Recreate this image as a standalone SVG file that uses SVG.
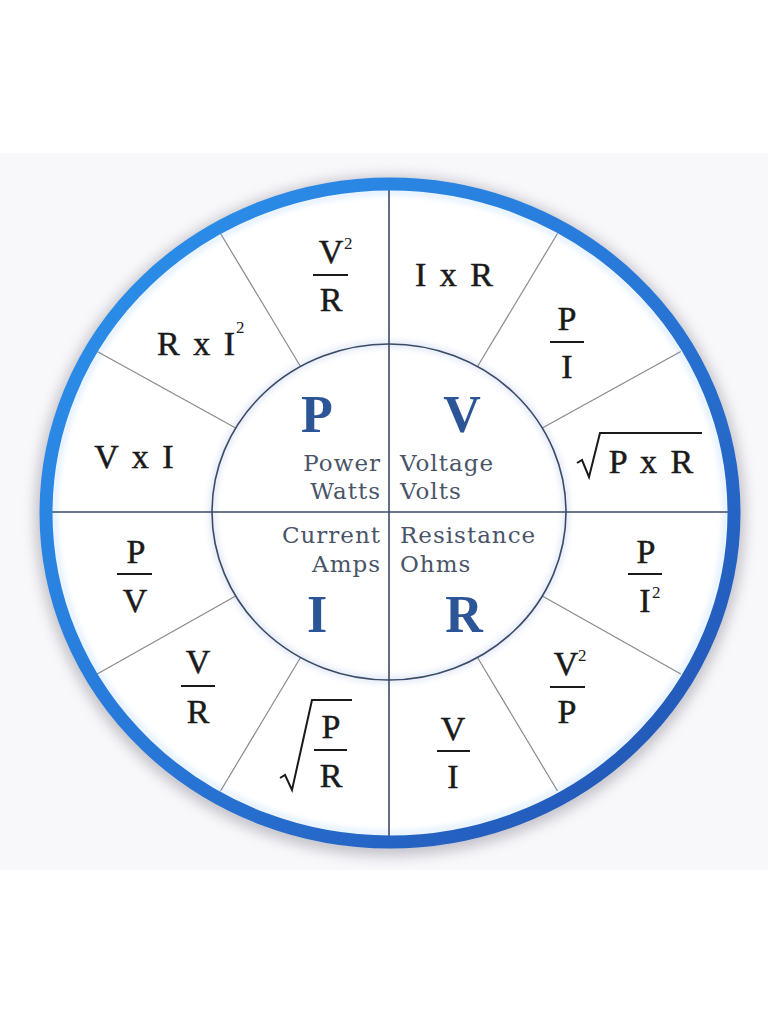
<svg xmlns="http://www.w3.org/2000/svg" width="768" height="1024" viewBox="0 0 768 1024">
<defs>
<linearGradient id="ringGrad" x1="0" y1="0" x2="1" y2="1">
<stop offset="0" stop-color="#2b93ec"/>
<stop offset="0.5" stop-color="#2878d8"/>
<stop offset="1" stop-color="#2250b0"/>
</linearGradient>
<filter id="shadow" x="-20%" y="-20%" width="140%" height="140%">
<feGaussianBlur stdDeviation="7"/>
</filter>
<filter id="glow" x="-20%" y="-20%" width="140%" height="140%">
<feGaussianBlur stdDeviation="3"/>
</filter>
<style>
.f{font-family:"Liberation Serif","Times New Roman",serif;font-size:34px;fill:#1a1a1a;stroke:#1a1a1a;stroke-width:0.5;text-anchor:middle;word-spacing:5px}
.sup{font-family:"Liberation Serif","Times New Roman",serif;font-size:17px;fill:#1a1a1a}
.big{font-family:"Liberation Serif","Times New Roman",serif;font-size:52px;font-weight:bold;fill:#2b5597;text-anchor:middle}
.lab{font-family:"DejaVu Serif","Liberation Serif",serif;font-size:23px;fill:#4a5468;letter-spacing:1px}
.end{text-anchor:end}
.bar{stroke:#1a1a1a;stroke-width:2}
.spoke{stroke:#8a8a8a;stroke-width:1.2}
.axis{stroke:#3b4a66;stroke-width:1.6}
.rad{fill:none;stroke:#1a1a1a;stroke-width:2;stroke-linejoin:miter}
</style>
</defs>
<rect x="0" y="0" width="768" height="1024" fill="#ffffff"/>
<rect x="0" y="153" width="768" height="717" fill="#f8f7fa"/>
<ellipse cx="390" cy="516" rx="346" ry="331" fill="none" stroke="#8c8c98" stroke-width="16" opacity="0.55" filter="url(#shadow)"/>
<ellipse cx="390" cy="513" rx="344" ry="329" fill="#ffffff"/>
<ellipse cx="390" cy="513" rx="336" ry="321" fill="none" stroke="#bcdcff" stroke-width="4" opacity="0.7" filter="url(#glow)"/>
<ellipse cx="389" cy="512" rx="177" ry="168" fill="none" stroke="#c9d4ee" stroke-width="6" opacity="0.6" filter="url(#glow)"/>
<g id="connectors">
<line class="spoke" x1="300.5" y1="366.5" x2="220.5" y2="233.5"/>
<line class="spoke" x1="235.7" y1="428" x2="97.2" y2="351.5"/>
<line class="spoke" x1="477.5" y1="366.5" x2="557.5" y2="233.5"/>
<line class="spoke" x1="542.3" y1="428" x2="680.8" y2="351.5"/>
<line class="spoke" x1="300.5" y1="657.5" x2="220.5" y2="791"/>
<line class="spoke" x1="235.7" y1="596" x2="97.2" y2="674"/>
<line class="spoke" x1="477.5" y1="657.5" x2="557.5" y2="791"/>
<line class="spoke" x1="542.3" y1="596" x2="680.8" y2="674"/>
<line class="axis" x1="52" y1="512" x2="728" y2="512"/>
<line class="axis" x1="389" y1="190" x2="389" y2="836"/>
</g>
<g id="inner-circle">
<ellipse cx="389" cy="512" rx="177" ry="168" fill="none" stroke="#3b4a66" stroke-width="1.6"/>
</g>
<g id="ring">
<ellipse cx="390" cy="513" rx="344" ry="329" fill="none" stroke="url(#ringGrad)" stroke-width="13"/>
</g>
<g id="node-P">
<text class="big" x="317" y="432">P</text>
<text class="lab end" x="381" y="471">Power</text>
<text class="lab end" x="381" y="499">Watts</text>
</g>
<g id="node-V">
<text class="big" x="462" y="432">V</text>
<text class="lab" x="400" y="471">Voltage</text>
<text class="lab" x="400" y="499">Volts</text>
</g>
<g id="node-I">
<text class="lab end" x="381" y="543">Current</text>
<text class="lab end" x="381" y="572">Amps</text>
<text class="big" x="317" y="632">I</text>
</g>
<g id="node-R">
<text class="lab" x="400" y="543">Resistance</text>
<text class="lab" x="400" y="572">Ohms</text>
<text class="big" x="464" y="632">R</text>
</g>
<g id="f-V2R">
<text class="f" x="331" y="263">V</text>
<text class="sup" x="344" y="249">2</text>
<line class="bar" x1="313" y1="275" x2="348" y2="275"/>
<text class="f" x="331" y="311">R</text>
</g>
<g id="f-IxR">
<text class="f" x="454" y="286">I x R</text>
</g>
<g id="f-PI">
<text class="f" x="567" y="330">P</text>
<line class="bar" x1="550" y1="342" x2="584" y2="342"/>
<text class="f" x="567" y="378">I</text>
</g>
<g id="f-sqrtPxR">
<polyline class="rad" points="577,463 582,460 589,477 600,433 702,433"/>
<text class="f" x="651" y="473">P x R</text>
</g>
<g id="f-PI2">
<text class="f" x="646" y="563">P</text>
<line class="bar" x1="628" y1="574" x2="662" y2="574"/>
<text class="f" x="645" y="612">I</text>
<text class="sup" x="652" y="598">2</text>
</g>
<g id="f-V2P">
<text class="f" x="566" y="675">V</text>
<text class="sup" x="578" y="661">2</text>
<line class="bar" x1="550" y1="687" x2="585" y2="687"/>
<text class="f" x="567" y="723">P</text>
</g>
<g id="f-VI">
<text class="f" x="453" y="740">V</text>
<line class="bar" x1="437" y1="751" x2="470" y2="751"/>
<text class="f" x="453" y="788">I</text>
</g>
<g id="f-sqrtPR">
<polyline class="rad" points="280,778 285,775 292,790 312,700 352,700"/>
<text class="f" x="331" y="738">P</text>
<line class="bar" x1="314" y1="750" x2="347" y2="750"/>
<text class="f" x="331" y="787">R</text>
</g>
<g id="f-VR">
<text class="f" x="198" y="673">V</text>
<line class="bar" x1="181" y1="686" x2="215" y2="686"/>
<text class="f" x="198" y="723">R</text>
</g>
<g id="f-PV">
<text class="f" x="136" y="563">P</text>
<line class="bar" x1="117" y1="574" x2="152" y2="574"/>
<text class="f" x="135" y="612">V</text>
</g>
<g id="f-VxI">
<text class="f" x="134" y="468">V x I</text>
</g>
<g id="f-RxI2">
<text class="f" x="196" y="355">R x I</text>
<text class="sup" x="236" y="333">2</text>
</g>
</svg>
